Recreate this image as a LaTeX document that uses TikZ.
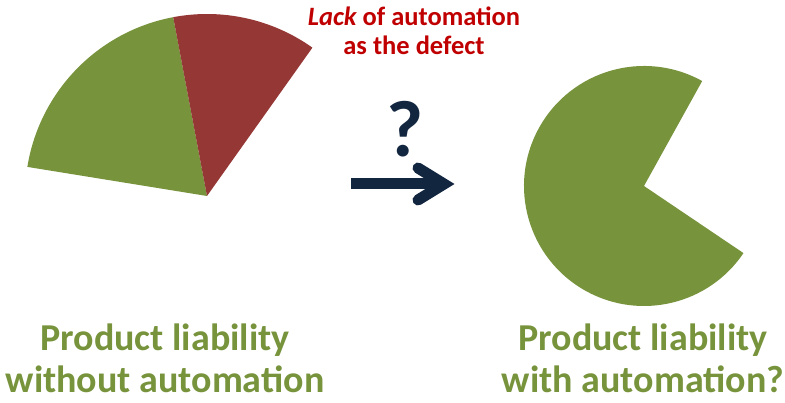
\documentclass[tikz,border=0pt]{standalone}
\usepackage{fontspec}
\setmainfont{Carlito}
\definecolor{pgreen}{HTML}{77933C}
\definecolor{pred}{HTML}{953735}
\definecolor{tred}{HTML}{C00000}
\definecolor{navy}{HTML}{13263F}
\tikzset{
  redtxt/.style={anchor=base, inner sep=0pt, text=tred, font=\fontsize{26.5}{30}\selectfont\bfseries},
  greentxt/.style={anchor=base, inner sep=0pt, text=pgreen, font=\fontsize{38}{42}\selectfont\bfseries},
  qmark/.style={anchor=base, inner sep=0pt, text=navy, font=\fontsize{80}{90}\selectfont\bfseries},
  arrowline/.style={draw=navy, line width=11pt}
}
\begin{document}
\begin{tikzpicture}[x=1pt,y=1pt]
\useasboundingbox (0,0) rectangle (785,403);
% left pie
\fill[pgreen] (207,207) -- ++(100.7:182) arc[start angle=100.7,end angle=170.8,radius=182] -- cycle;
\fill[pred] (207,207) -- ++(54.6:182) arc[start angle=54.6,end angle=100.7,radius=182] -- cycle;
% right pie
\fill[pgreen] (644,217) -- ++(61:120) arc[start angle=61,end angle=326,radius=120] -- cycle;
% red label
\node[redtxt] (lack1) at (414,377) {\itshape Lack\upshape{} of automation};
\node[redtxt] (lack2) at (414,348) {as the defect};
% question mark and arrow
\node[qmark] (q) at (405,246) {?};
\coordinate (ashaft) at (351,219);
\coordinate (atip) at (444,219);
\coordinate (aup) at (418,235);
\coordinate (adown) at (418,203);
\draw[arrowline, line cap=butt] (ashaft) -- (atip);
\draw[arrowline, line cap=round, line join=miter] (aup) -- (atip) -- (adown);
% bottom labels
\node[greentxt] (l1) at (165,52) {Product liability};
\node[greentxt] (l2) at (165,10) {without automation};
\node[greentxt] (r1) at (643,52) {Product liability};
\node[greentxt] (r2) at (643,10) {with automation?};
\end{tikzpicture}
\end{document}
